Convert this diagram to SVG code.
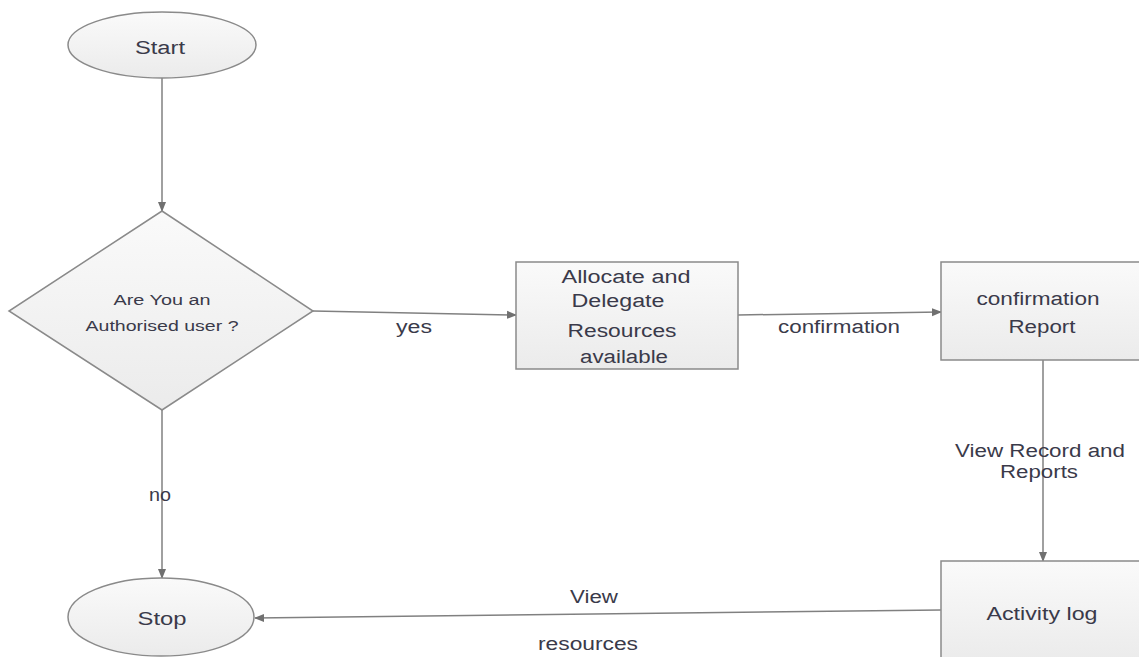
<svg xmlns="http://www.w3.org/2000/svg" width="1139" height="657" viewBox="0 0 1139 657">
<style>
.shape{fill:url(#g);stroke:#8a8a8a;stroke-width:1.5}
.t{font-family:"Liberation Sans",Arial,sans-serif;fill:#3a3a4a;font-size:18px;text-anchor:middle}
.s{font-size:14px}
.c{fill:none;stroke:#808080;stroke-width:1.5}
</style>
<defs>
<linearGradient id="g" x1="0" y1="0" x2="0" y2="1">
<stop offset="0" stop-color="#fafafa"/>
<stop offset="1" stop-color="#ebebeb"/>
</linearGradient>
<marker id="a" markerWidth="10" markerHeight="10" refX="9" refY="5" orient="auto" markerUnits="userSpaceOnUse">
<path d="M0,1 L10,5 L0,9 Z" fill="#707070"/>
</marker>
</defs>
<rect width="1139" height="657" fill="#fff"/>
<g id="connectors">
<line class="c" x1="162" y1="78" x2="162" y2="211" marker-end="url(#a)"/>
<line class="c" x1="313" y1="311" x2="516" y2="315" marker-end="url(#a)"/>
<line class="c" x1="738" y1="315" x2="941" y2="312" marker-end="url(#a)"/>
<line class="c" x1="1043" y1="360" x2="1043" y2="561" marker-end="url(#a)"/>
<line class="c" x1="941" y1="610" x2="255" y2="618" marker-end="url(#a)"/>
<line class="c" x1="162" y1="410" x2="162" y2="578" marker-end="url(#a)"/>
<text class="t" x="414" y="333" textLength="36" lengthAdjust="spacingAndGlyphs">yes</text>
<text class="t" x="839" y="333" textLength="122" lengthAdjust="spacingAndGlyphs">confirmation</text>
<text class="t" x="1040" y="457" textLength="170" lengthAdjust="spacingAndGlyphs">View Record and</text>
<text class="t" x="1039" y="478" textLength="78" lengthAdjust="spacingAndGlyphs">Reports</text>
<text class="t" x="594" y="603" textLength="48" lengthAdjust="spacingAndGlyphs">View</text>
<text class="t" x="588" y="650" textLength="100" lengthAdjust="spacingAndGlyphs">resources</text>
<text class="t" x="160" y="501" textLength="22" lengthAdjust="spacingAndGlyphs">no</text>
</g>
<g id="start">
<ellipse class="shape" cx="162" cy="45" rx="94" ry="33"/>
<text class="t" x="160" y="54" textLength="50" lengthAdjust="spacingAndGlyphs">Start</text>
</g>
<g id="decision">
<polygon class="shape" points="162,211 313,311 162,410 9,311"/>
<text class="t s" x="162" y="305" textLength="97" lengthAdjust="spacingAndGlyphs">Are You an</text>
<text class="t s" x="162" y="331" textLength="153" lengthAdjust="spacingAndGlyphs">Authorised user ?</text>
</g>
<g id="allocate">
<rect class="shape" x="516" y="262" width="222" height="107"/>
<text class="t" x="626" y="283" textLength="129" lengthAdjust="spacingAndGlyphs">Allocate and</text>
<text class="t" x="618" y="307" textLength="93" lengthAdjust="spacingAndGlyphs">Delegate</text>
<text class="t" x="622" y="337" textLength="109" lengthAdjust="spacingAndGlyphs">Resources</text>
<text class="t" x="624" y="363" textLength="88" lengthAdjust="spacingAndGlyphs">available</text>
</g>
<g id="report">
<rect class="shape" x="941" y="262" width="200" height="98"/>
<text class="t" x="1038" y="305" textLength="123" lengthAdjust="spacingAndGlyphs">confirmation</text>
<text class="t" x="1042" y="333" textLength="67" lengthAdjust="spacingAndGlyphs">Report</text>
</g>
<g id="activity">
<rect class="shape" x="941" y="561" width="200" height="100"/>
<text class="t" x="1042" y="620" textLength="111" lengthAdjust="spacingAndGlyphs">Activity log</text>
</g>
<g id="stop">
<ellipse class="shape" cx="161" cy="617" rx="93" ry="39"/>
<text class="t" x="162" y="625" textLength="49" lengthAdjust="spacingAndGlyphs">Stop</text>
</g>
</svg>
